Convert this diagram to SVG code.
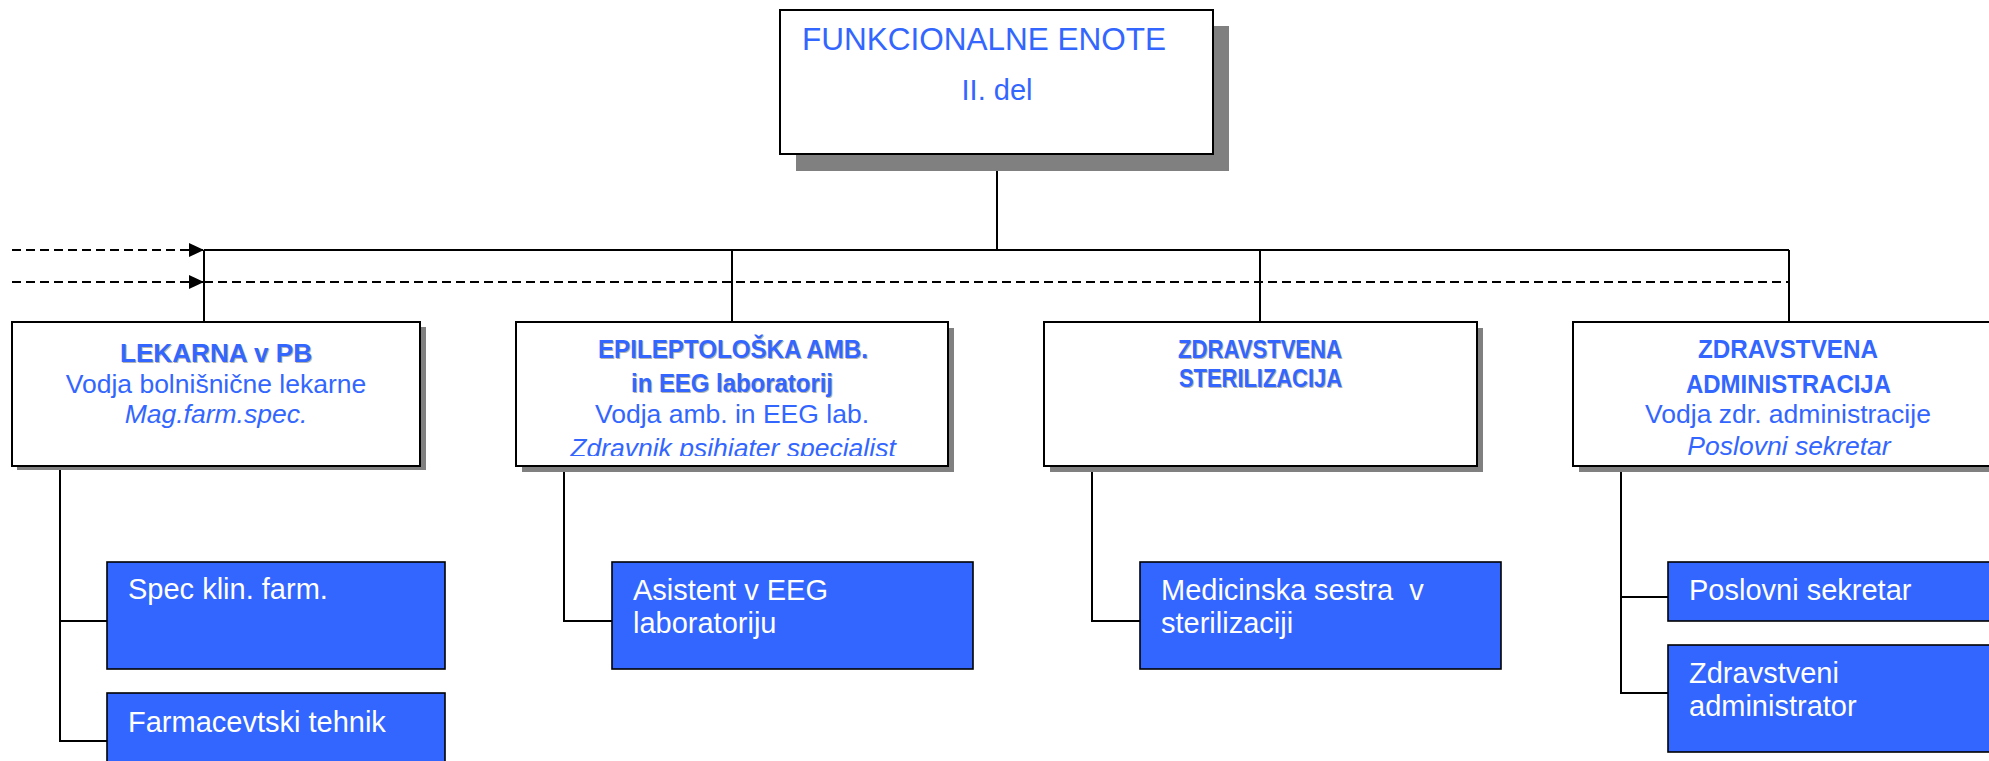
<svg xmlns="http://www.w3.org/2000/svg" width="1989" height="761" viewBox="0 0 1989 761">
<style>
text{font-family:"Liberation Sans",Arial,sans-serif}
.box{fill:#fff;stroke:#000;stroke-width:2}
.shadow{fill:#808080}
.blue{fill:#3366FF;stroke:#000;stroke-width:1.6}
.t{fill:#3366FF;text-anchor:middle;font-size:26.5px}
.b{font-weight:bold}
.bs{fill:#b4b4b4}
.i{font-style:italic}
.w{fill:#fff;font-size:29px}
.ln{stroke:#000;stroke-width:2;fill:none}
.dash{stroke:#000;stroke-width:2;fill:none;stroke-dasharray:9 5}
</style>
<defs>
<marker id="arr" markerUnits="userSpaceOnUse" markerWidth="16" markerHeight="15" refX="15" refY="7" orient="auto">
<path d="M0,0 L15,7 L0,14 z" fill="#000"/>
</marker>
<clipPath id="clip2"><rect x="517" y="323" width="430" height="133"/></clipPath>
</defs>

<g id="connectors">
<line class="ln" x1="997" y1="154" x2="997" y2="250"/>
<line class="ln" x1="204" y1="250" x2="1789" y2="250"/>
<line class="ln" x1="204" y1="250" x2="204" y2="322"/>
<line class="ln" x1="732" y1="250" x2="732" y2="322"/>
<line class="ln" x1="1260" y1="250" x2="1260" y2="322"/>
<line class="ln" x1="1789" y1="250" x2="1789" y2="322"/>
<line class="dash" x1="12" y1="250" x2="204" y2="250" marker-end="url(#arr)"/>
<line class="dash" x1="12" y1="282" x2="204" y2="282" marker-end="url(#arr)"/>
<line class="dash" x1="204" y1="282" x2="1789" y2="282"/>
<polyline class="ln" points="60,466 60,741 107,741"/>
<line class="ln" x1="60" y1="621" x2="107" y2="621"/>
<polyline class="ln" points="564,466 564,621 612,621"/>
<polyline class="ln" points="1092,466 1092,621 1140,621"/>
<polyline class="ln" points="1621,466 1621,693 1668,693"/>
<line class="ln" x1="1621" y1="597" x2="1668" y2="597"/>
</g>

<g id="top">
<rect class="shadow" x="796" y="26" width="433" height="145"/>
<rect class="box" x="780" y="10" width="433" height="144"/>
<text x="802" y="50" fill="#3366FF" font-size="31.5">FUNKCIONALNE ENOTE</text>
<text x="997" y="100" fill="#3366FF" font-size="29" text-anchor="middle">II. del</text>
</g>

<g id="lekarna">
<rect class="shadow" x="17" y="327" width="409" height="143"/>
<rect class="box" x="12" y="322" width="408" height="144"/>
<text class="t b bs" x="217" y="363" font-size="27.5" textLength="192" lengthAdjust="spacingAndGlyphs">LEKARNA v PB</text>
<text class="t b" x="216" y="362" font-size="27.5" textLength="192" lengthAdjust="spacingAndGlyphs">LEKARNA v PB</text>
<text class="t" x="216" y="393">Vodja bolnišnične lekarne</text>
<text class="t i" x="216" y="423">Mag.farm.spec.</text>
</g>

<g id="epileptoloska">
<rect class="shadow" x="522" y="328" width="432" height="144"/>
<rect class="box" x="516" y="322" width="432" height="144"/>
<text class="t b bs" x="734" y="359" font-size="25" textLength="270" lengthAdjust="spacingAndGlyphs">EPILEPTOLOŠKA AMB.</text>
<text class="t b" x="733" y="358" font-size="25" textLength="270" lengthAdjust="spacingAndGlyphs">EPILEPTOLOŠKA AMB.</text>
<text class="t b bs" x="733" y="393" font-size="25" textLength="202" lengthAdjust="spacingAndGlyphs">in EEG laboratorij</text>
<text class="t b" x="732" y="392" font-size="25" textLength="202" lengthAdjust="spacingAndGlyphs">in EEG laboratorij</text>
<text class="t" x="732" y="423">Vodja amb. in EEG lab.</text>
<text class="t i" x="733" y="457" clip-path="url(#clip2)">Zdravnik psihiater specialist</text>
</g>

<g id="sterilizacija">
<rect class="shadow" x="1050" y="328" width="433" height="144"/>
<rect class="box" x="1044" y="322" width="433" height="144"/>
<text class="t b bs" x="1261" y="359" font-size="24.5" textLength="164" lengthAdjust="spacingAndGlyphs">ZDRAVSTVENA</text>
<text class="t b" x="1260" y="358" font-size="24.5" textLength="164" lengthAdjust="spacingAndGlyphs">ZDRAVSTVENA</text>
<text class="t b bs" x="1261.5" y="388" font-size="24.5" textLength="163" lengthAdjust="spacingAndGlyphs">STERILIZACIJA</text>
<text class="t b" x="1260.5" y="387" font-size="24.5" textLength="163" lengthAdjust="spacingAndGlyphs">STERILIZACIJA</text>
</g>

<g id="administracija">
<rect class="shadow" x="1579" y="328" width="433" height="144"/>
<rect class="box" x="1573" y="322" width="433" height="144"/>
<text class="t b" x="1788" y="358" font-size="26" textLength="180" lengthAdjust="spacingAndGlyphs">ZDRAVSTVENA</text>
<text class="t b" x="1788.5" y="393" font-size="26" textLength="205" lengthAdjust="spacingAndGlyphs">ADMINISTRACIJA</text>
<text class="t" x="1788" y="423">Vodja zdr. administracije</text>
<text class="t i" x="1789" y="455">Poslovni sekretar</text>
</g>

<g id="spec-klin-farm">
<rect class="blue" x="107" y="562" width="338" height="107"/>
<text class="w" x="128" y="599">Spec klin. farm.</text>
</g>
<g id="farmacevtski-tehnik">
<rect class="blue" x="107" y="693" width="338" height="107"/>
<text class="w" x="128" y="732">Farmacevtski tehnik</text>
</g>
<g id="asistent-eeg">
<rect class="blue" x="612" y="562" width="361" height="107"/>
<text class="w" x="633" y="600">Asistent v EEG</text>
<text class="w" x="633" y="633">laboratoriju</text>
</g>
<g id="medicinska-sestra">
<rect class="blue" x="1140" y="562" width="361" height="107"/>
<text class="w" x="1161" y="600" xml:space="preserve" style="white-space:pre">Medicinska sestra  v</text>
<text class="w" x="1161" y="633">sterilizaciji</text>
</g>
<g id="poslovni-sekretar">
<rect class="blue" x="1668" y="562" width="361" height="59"/>
<text class="w" x="1689" y="600">Poslovni sekretar</text>
</g>
<g id="zdravstveni-administrator">
<rect class="blue" x="1668" y="645" width="361" height="107"/>
<text class="w" x="1689" y="683">Zdravstveni</text>
<text class="w" x="1689" y="716">administrator</text>
</g>
</svg>
